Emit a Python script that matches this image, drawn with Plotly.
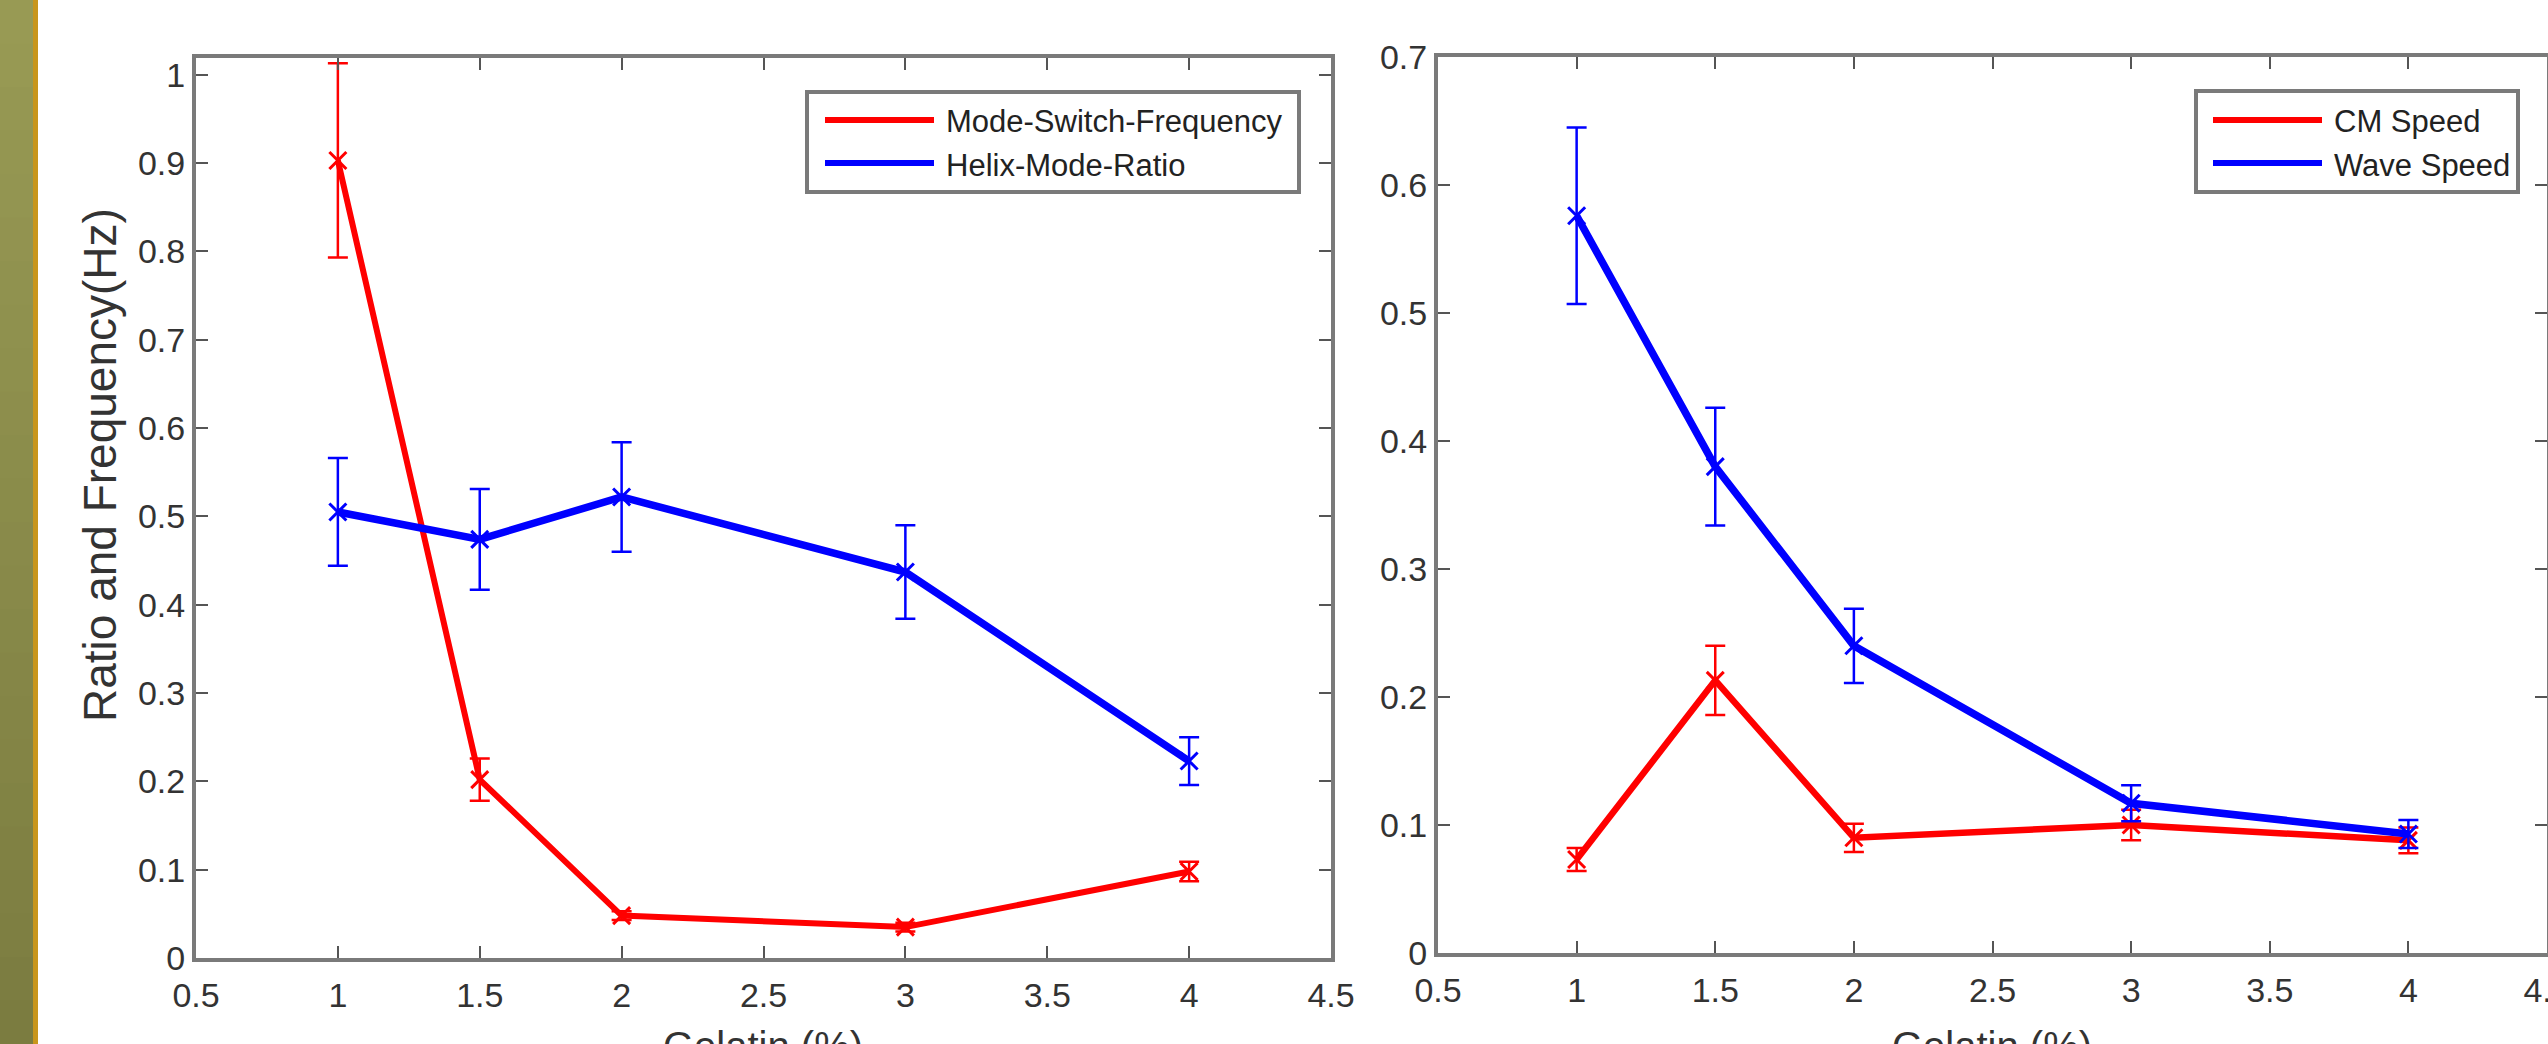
import plotly.graph_objects as go

# ---------------- data ----------------
gelatin = [1, 1.5, 2, 3, 4]

mode_switch_freq = [0.903, 0.202, 0.048, 0.035, 0.098]
mode_switch_err = [0.110, 0.024, 0.005, 0.005, 0.011]
helix_mode_ratio = [0.505, 0.474, 0.522, 0.437, 0.223]
helix_mode_err = [0.061, 0.057, 0.062, 0.053, 0.027]

cm_speed = [0.073, 0.213, 0.090, 0.100, 0.088]
cm_speed_err = [0.009, 0.027, 0.011, 0.012, 0.010]
wave_speed = [0.576, 0.380, 0.240, 0.117, 0.093]
wave_speed_err = [0.069, 0.046, 0.029, 0.014, 0.011]

legend_left = ["Mode-Switch-Frequency", "Helix-Mode-Ratio"]
legend_right = ["CM Speed", "Wave Speed"]
y_title_left = "Ratio and Frequency(Hz)"
x_title = "Gelatin (%)"

# ---------------- geometry helpers ----------------
W, H = 2548, 1044
def px(x):
    return x / W
def py(y):
    return 1 - y / H

RED = "#ff0000"
BLUE = "#0000ff"
FONT = "Liberation Sans, Arial, sans-serif"
AXC = "#7a7a7a"
TXT = "#333333"

fig = go.Figure()

def add_series(x, y, err, color, lw, xa, ya):
    fig.add_trace(go.Scatter(
        x=x, y=y, mode="lines+markers",
        line=dict(color=color, width=lw),
        marker=dict(symbol="x-thin", size=17, color=color,
                    line=dict(color=color, width=3)),
        error_y=dict(type="data", array=err, visible=True,
                     color=color, thickness=2.5, width=10),
        xaxis=xa, yaxis=ya, showlegend=False))

add_series(gelatin, mode_switch_freq, mode_switch_err, RED, 6, "x", "y")
add_series(gelatin, helix_mode_ratio, helix_mode_err, BLUE, 7.5, "x", "y")
add_series(gelatin, cm_speed, cm_speed_err, RED, 6.5, "x2", "y2")
add_series(gelatin, wave_speed, wave_speed_err, BLUE, 7.5, "x2", "y2")

axis_common = dict(
    showline=True, linecolor=AXC, linewidth=4, mirror="ticks",
    ticks="inside", ticklen=12, tickwidth=2, tickcolor="#555555",
    showgrid=False, zeroline=False, automargin=False,
    tickfont=dict(family=FONT, size=34, color=TXT),
    ticklabeloverflow="allow",
)

fig.update_layout(
    width=W, height=H,
    margin=dict(l=0, r=0, t=0, b=0, pad=0, autoexpand=False),
    paper_bgcolor="white", plot_bgcolor="white",
    xaxis=dict(domain=[px(196), px(1331)], range=[0.5, 4.5],
               tick0=0.5, dtick=0.5, anchor="y", ticklabelstandoff=4, **axis_common),
    yaxis=dict(domain=[py(958), py(58)], range=[0, 1.019],
               tick0=0, dtick=0.1, anchor="x", ticklabelstandoff=0, **axis_common),
    xaxis2=dict(domain=[px(1438), px(2547)], range=[0.5, 4.5],
                tick0=0.5, dtick=0.5, anchor="y2", ticklabelstandoff=4, **axis_common),
    yaxis2=dict(domain=[py(953), py(57)], range=[0, 0.7],
                tick0=0, dtick=0.1, anchor="x2", ticklabelstandoff=0, **axis_common),
)

shapes = []
annotations = []

# left decorative strip (vertical gradient approximated by overlapping bands)
n_bands = 24
top_rgb = (0x98, 0x9a, 0x54)
bot_rgb = (0x7b, 0x7c, 0x40)
for i in range(n_bands):
    t = i / (n_bands - 1)
    c = tuple(round(a + (b - a) * t) for a, b in zip(top_rgb, bot_rgb))
    y_top = 1 - i / n_bands
    y_bot = max(0, 1 - (i + 1) / n_bands - 0.01)
    shapes.append(dict(type="rect", xref="paper", yref="paper",
                       x0=0, x1=px(33), y0=y_bot, y1=y_top,
                       fillcolor="rgb(%d,%d,%d)" % c,
                       line=dict(width=0), layer="above"))
shapes.append(dict(type="rect", xref="paper", yref="paper",
                   x0=px(33), x1=px(38), y0=0, y1=1, fillcolor="#c8961c",
                   line=dict(width=0), layer="above"))

def make_legend(box, line_x, rows_y, labels, colors):
    x0, x1, y0, y1 = box
    shapes.append(dict(type="rect", xref="paper", yref="paper",
                       x0=px(x0), x1=px(x1), y0=py(y1), y1=py(y0),
                       fillcolor="white", line=dict(color=AXC, width=4),
                       layer="above"))
    for lab, col, ry in zip(labels, colors, rows_y):
        shapes.append(dict(type="line", xref="paper", yref="paper",
                           x0=px(line_x[0]), x1=px(line_x[1]), y0=py(ry), y1=py(ry),
                           line=dict(color=col, width=6), layer="above"))
        annotations.append(dict(xref="paper", yref="paper",
                                x=px(line_x[1] + 10), y=py(ry + 2),
                                xanchor="left", yanchor="middle", showarrow=False,
                                text=lab, font=dict(family=FONT, size=31, color="#222222")))

make_legend((807, 1299, 92, 192), (825, 934), (120, 163), legend_left, [RED, BLUE])
make_legend((2196, 2518, 91, 192), (2213, 2322), (120, 163), legend_right, [RED, BLUE])

# axis titles
annotations.append(dict(xref="paper", yref="paper", x=px(100), y=py(465),
                        xanchor="center", yanchor="middle", showarrow=False,
                        textangle=-90, text=y_title_left,
                        font=dict(family=FONT, size=46, color=TXT)))
annotations.append(dict(xref="paper", yref="paper", x=px(763), y=py(1022),
                        xanchor="center", yanchor="top", showarrow=False,
                        text=x_title, font=dict(family=FONT, size=40, color=TXT)))
annotations.append(dict(xref="paper", yref="paper", x=px(1992), y=py(1022),
                        xanchor="center", yanchor="top", showarrow=False,
                        text=x_title, font=dict(family=FONT, size=40, color=TXT)))

fig.update_layout(shapes=shapes, annotations=annotations)

fig.write_html("out.html")
